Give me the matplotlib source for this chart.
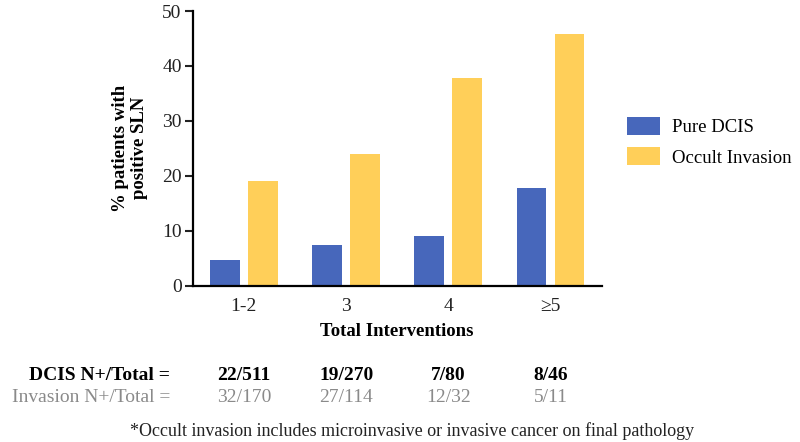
import numpy as np
import matplotlib.pyplot as plt

plt.rcParams['font.family'] = ['Liberation Serif', 'DejaVu Serif']

# === DATA ===
categories = ["1-2", "3", "4", "\u22655"]
pure_dcis = [4.6, 7.3, 9.1, 17.8]
occult_invasion = [19.1, 24.0, 37.8, 45.8]
dcis_counts = ["22/511", "19/270", "7/80", "8/46"]
invasion_counts = ["32/170", "27/114", "12/32", "5/11"]

BLUE = "#4767BB"
YELLOW = "#FFCF59"
GREY = "#8a8a8a"

fig = plt.figure(figsize=(8, 4.42), dpi=100)
ax = fig.add_axes([0.241, 0.354, 0.511, 0.621])

x = np.arange(len(categories))
w = 0.293
off = 0.186
ax.bar(x - off, pure_dcis, w, color=BLUE, label="Pure DCIS")
ax.bar(x + off, occult_invasion, w, color=YELLOW, label="Occult Invasion")

ax.set_xlim(-0.5, 3.5)
ax.set_ylim(0, 50)
ax.set_yticks([0, 10, 20, 30, 40, 50])
ax.set_xticks(x)
ax.set_xticklabels(categories)
ax.tick_params(axis="y", length=6, width=1.5, labelsize=14, pad=2, colors="#222222")
ax.tick_params(axis="x", length=0, labelsize=14, pad=9, colors="#222222")
for s in ["top", "right"]:
    ax.spines[s].set_visible(False)
for s in ["left", "bottom"]:
    ax.spines[s].set_linewidth(1.6)
    ax.spines[s].set_color("black")

ax.set_xlabel("Total Interventions", fontsize=13.5, fontweight="bold", labelpad=6)
ax.set_ylabel("% patients with\npositive SLN", fontsize=13.5, fontweight="bold", labelpad=10)

ax.legend(loc="upper left", bbox_to_anchor=(627 / 800, 1 - 117 / 442),
          bbox_transform=fig.transFigure, frameon=False, borderpad=0,
          borderaxespad=0, fontsize=13.5, handlelength=1.76, handleheight=1.07,
          labelspacing=0.6, handletextpad=0.64)

# === COUNTS TABLE ===
def to_fig_x(xv):
    disp = ax.transData.transform((xv, 0))
    return fig.transFigure.inverted().transform(disp)[0]

y_dcis = 1 - 375 / 442
y_inv = 1 - 398 / 442
fig.text(170 / 800, y_dcis, "DCIS N+/Total =", ha="right", va="center",
         fontsize=14, fontweight="bold", color="black")
fig.text(170 / 800, y_inv, "Invasion N+/Total =", ha="right", va="center",
         fontsize=14, color=GREY)
for i in range(len(categories)):
    fx = to_fig_x(x[i])
    fig.text(fx, y_dcis, dcis_counts[i], ha="center", va="center",
             fontsize=14, fontweight="bold", color="black")
    fig.text(fx, y_inv, invasion_counts[i], ha="center", va="center",
             fontsize=14, color=GREY)

fig.text(412 / 800, 1 - 431 / 442,
         "*Occult invasion includes microinvasive or invasive cancer on final pathology",
         ha="center", va="center", fontsize=13, color="#222222")

fig.savefig("out.png", dpi=100)
